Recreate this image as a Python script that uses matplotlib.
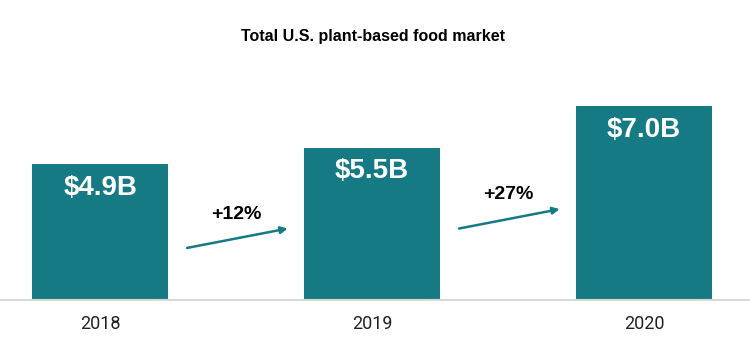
import matplotlib
matplotlib.use("Agg")
import matplotlib.pyplot as plt
from matplotlib import font_manager

# data
years = ["2018", "2019", "2020"]
market_bn = [4.9, 5.5, 7.0]
growth_labels = ["+12%", "+27%"]

TEAL = "#167a84"
BOLD_FONT = ["Liberation Sans", "DejaVu Sans"]

# condensed font for the year labels if we have one
names = {f.name for f in font_manager.fontManager.ttflist}
if "Liberation Sans Narrow" in names:
    year_font, year_size = "Liberation Sans Narrow", 14
else:
    year_font, year_size = "Roboto", 13

fig = plt.figure(figsize=(7.5, 3.54), dpi=100)
ax = fig.add_axes([0, 54 / 354, 1, 300 / 354])

x = list(range(len(years)))
ax.bar(x, market_bn, width=0.5, color=TEAL, zorder=2)

ax.set_xlim(-0.368, 2.39)
ax.set_ylim(0, 10.83)

for s in ["top", "right", "left"]:
    ax.spines[s].set_visible(False)
ax.spines["bottom"].set_color("#d9d9d9")
ax.spines["bottom"].set_linewidth(1.5)
ax.set_yticks([])
ax.set_xticks(x)
ax.set_xticklabels(years, fontsize=year_size, color="#222222", family=year_font)
ax.tick_params(axis="x", length=0, pad=11)

# value labels inside bars
for xi, v in zip(x, market_bn):
    ax.text(xi, v - 0.85, f"${v:.1f}B", ha="center", va="center", color="white",
            fontsize=20, fontweight="bold", family=BOLD_FONT)

# growth arrows between bars
for i, lab in enumerate(growth_labels):
    y0 = 1.88 + 0.7 * i
    y1 = y0 + 0.7
    ax.annotate("", xy=(i + 0.69, y1), xytext=(i + 0.32, y0),
                arrowprops=dict(arrowstyle="-|>", color=TEAL, lw=1.8,
                                mutation_scale=10, shrinkA=0, shrinkB=0))
    ax.text(i + 0.5, y1 + 0.52, lab, ha="center", va="center", color="black",
            fontsize=14, fontweight="bold", family=BOLD_FONT)

fig.text(0.497, 1 - 37 / 354, "Total U.S. plant-based food market", ha="center",
         va="center", fontsize=11.5, fontweight="bold", family=BOLD_FONT)

fig.savefig("out.png", dpi=100)
